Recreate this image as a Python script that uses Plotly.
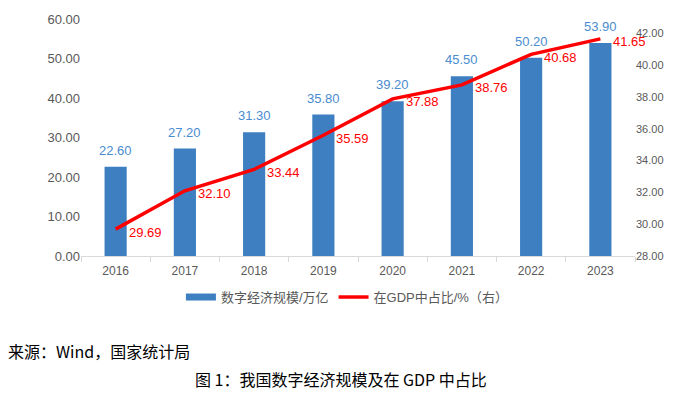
import plotly.graph_objects as go

years = ["2016", "2017", "2018", "2019", "2020", "2021", "2022", "2023"]
scale = [22.60, 27.20, 31.30, 35.80, 39.20, 45.50, 50.20, 53.90]
share = [29.69, 32.10, 33.44, 35.59, 37.88, 38.76, 40.68, 41.65]

bar_name = "数字经济规模/万亿"
line_name = "在GDP中占比/%（右）"
source_text = "来源：Wind，国家统计局"
caption_text = "图 1：我国数字经济规模及在 GDP 中占比"

font_main = "Liberation Sans, Arial, Noto Sans CJK SC, sans-serif"
font_cjk = "Noto Sans CJK SC, sans-serif"
bar_color = "#3d7fc1"
bar_label_color = "#4a8cd0"
line_color = "#ff0000"

fig = go.Figure()
fig.add_trace(go.Bar(
    x=years, y=scale, name=bar_name, showlegend=False,
    marker=dict(color=bar_color, line=dict(width=0)),
    cliponaxis=False,
))
# legend stand-in for the bar series (wide flat swatch as in the reference)
fig.add_trace(go.Scatter(
    x=years, y=[None] * len(years), name=bar_name, mode="lines",
    line=dict(color=bar_color, width=7), hoverinfo="skip",
))
fig.add_trace(go.Scatter(
    x=years, y=share, name=line_name, yaxis="y2",
    mode="lines", line=dict(color=line_color, width=3.5),
    cliponaxis=False,
))

bar_labels = [
    dict(x=i, y=v, xref="x", yref="y", text=f"{v:.2f}", showarrow=False,
         xanchor="center", yanchor="bottom", yshift=7,
         font=dict(color=bar_label_color, size=13, family=font_main))
    for i, v in enumerate(scale)
]
line_labels = [
    dict(x=i, y=v, xref="x", yref="y2", text=f"{v:.2f}", showarrow=False,
         xanchor="left", yanchor="middle", xshift=11, yshift=-3,
         font=dict(color=line_color, size=13, family=font_main))
    for i, v in enumerate(share)
]

fig.update_layout(
    width=694, height=398,
    margin=dict(l=73, r=67, t=11, b=150, autoexpand=False),
    paper_bgcolor="white", plot_bgcolor="white",
    font=dict(family=font_main, size=12, color="#595959"),
    bargap=0.68,
    showlegend=True,
    legend=dict(orientation="h", x=0.48, xanchor="center", y=-0.11, yanchor="top",
                font=dict(size=13, color="#595959", family=font_main),
                itemwidth=30),
    xaxis=dict(type="category", categoryorder="array", categoryarray=years,
               range=[-0.5, len(years) - 0.5], automargin=False,
               showgrid=False, showline=True, linecolor="#d9d9d9",
               ticks="outside", tickson="boundaries", tickcolor="#d9d9d9", ticklen=5,
               ticklabelstandoff=4,
               tickangle=0, tickfont=dict(size=12, color="#595959")),
    yaxis=dict(range=[0, 60], dtick=10, tickformat=".2f", showgrid=False,
               automargin=False,
               zeroline=False, showline=False, ticks="",
               tickfont=dict(size=13, color="#595959")),
    yaxis2=dict(range=[28, 42.9], tick0=28, dtick=2, tickformat=".2f", overlaying="y",
                automargin=False,
                side="right", showgrid=False, zeroline=False, showline=False,
                tickfont=dict(size=11, color="#595959")),
    annotations=bar_labels + line_labels + [
        dict(text=source_text, xref="paper", yref="paper", x=-0.135, y=-0.4,
             xanchor="left", yanchor="middle", showarrow=False,
             font=dict(size=16, color="#000000", family=font_cjk)),
        dict(text=caption_text, xref="paper", yref="paper", x=0.47, y=-0.517,
             xanchor="center", yanchor="middle", showarrow=False,
             font=dict(size=16, color="#000000", family=font_cjk)),
    ],
)

fig.write_html("out.html")
